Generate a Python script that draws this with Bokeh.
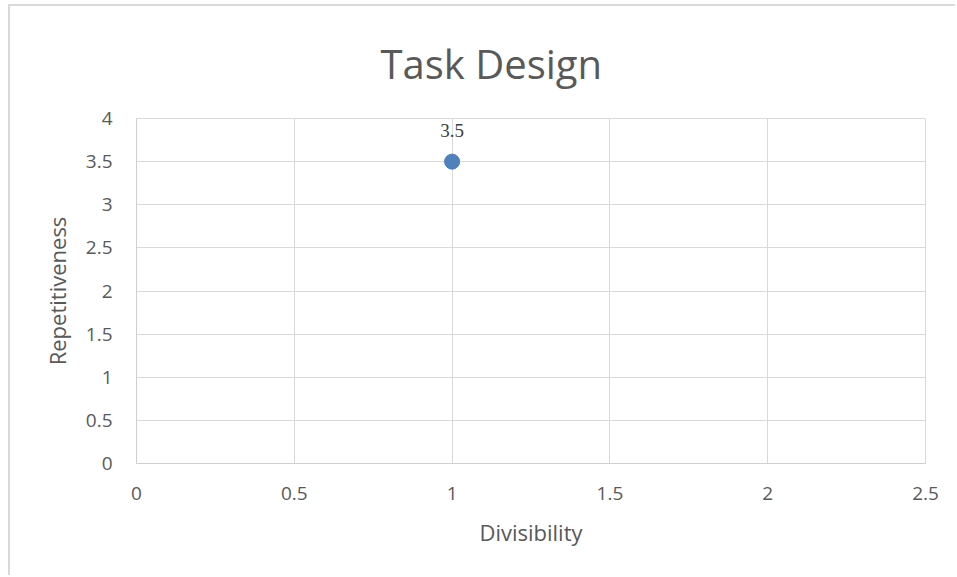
from bokeh.plotting import figure
from bokeh.models import Range1d, ColumnDataSource, LabelSet
from bokeh.embed import file_html
from bokeh.resources import INLINE

# Task design data point
divisibility = [1.0]
repetitiveness = [3.5]
point_labels = ["3.5"]

x_ticks = [0, 0.5, 1, 1.5, 2, 2.5]
y_ticks = [0, 0.5, 1, 1.5, 2, 2.5, 3, 3.5, 4]

FONT = "Open Sans"
GRID = "#d9d9d9"
TEXT = "#595959"

src = ColumnDataSource(dict(x=divisibility, y=repetitiveness, lab=point_labels))

p = figure(
    width=947, height=571,
    x_range=Range1d(0, 2.5), y_range=Range1d(0, 4),
    output_backend="svg", toolbar_location=None,
    min_border_left=126, min_border_right=32,
    min_border_top=111, min_border_bottom=114,
    title="Task Design",
)
p.styles = {
    "margin-left": "8px", "margin-top": "4px",
    "border-left": "2px solid #d9d9d9", "border-top": "2px solid #d9d9d9",
}

# Title sits left-aligned with an offset so it is centred on the whole chart
p.title.align = "left"
p.title.offset = 244
p.title.standoff = 55
p.title.text_font = FONT
p.title.text_font_size = "40px"
p.title.text_font_style = "normal"
p.title.text_color = TEXT

p.outline_line_color = GRID
p.outline_line_width = 1

p.xaxis.ticker = x_ticks
p.yaxis.ticker = y_ticks
for ax in (p.xaxis, p.yaxis):
    ax.axis_line_color = "#cfcfcf"
    ax.major_tick_line_color = None
    ax.minor_tick_line_color = None
    ax.major_label_text_font = FONT
    ax.major_label_text_font_size = "19px"
    ax.major_label_text_color = TEXT
    ax.axis_label_text_font = FONT
    ax.axis_label_text_font_size = "22px"
    ax.axis_label_text_font_style = "normal"
    ax.axis_label_text_color = TEXT

p.xaxis.axis_label = "Divisibility"
p.yaxis.axis_label = "Repetitiveness"
p.xaxis.major_label_standoff = 17
p.xaxis.axis_label_standoff = 14
p.yaxis.major_label_standoff = 18
p.yaxis.axis_label_standoff = 11

p.xgrid.grid_line_color = GRID
p.ygrid.grid_line_color = GRID
p.xgrid.ticker = x_ticks
p.ygrid.ticker = y_ticks

p.scatter("x", "y", source=src, size=15, fill_color="#4f81bd",
          line_color="#4a7ebb", line_width=1)

labels = LabelSet(x="x", y="y", text="lab", source=src, y_offset=25,
                  text_align="center", text_baseline="alphabetic",
                  text_font=FONT, text_font_size="19px", text_color="#404040")
p.add_layout(labels)

open("out.html", "w").write(file_html(p, INLINE))
